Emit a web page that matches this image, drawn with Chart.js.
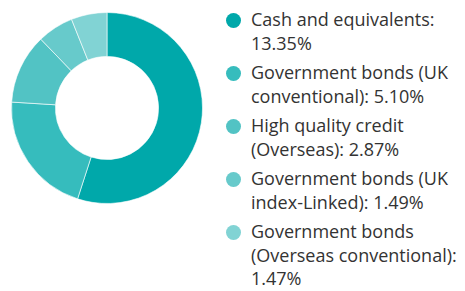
<!DOCTYPE html>
<html>
<head>
<meta charset="utf-8">
<script src="https://cdn.jsdelivr.net/npm/chart.js@4"></script>
<style>
  html, body { margin: 0; padding: 0; background: #fff; }
  #wrap { position: relative; width: 465px; height: 291px; overflow: hidden; }
  #pie { position: absolute; left: 0; top: 0; }
  #legend {
    position: absolute; left: 226px; top: 8px; width: 239px;
    margin: 0; padding: 0; list-style: none;
    font-family: "Open Sans", sans-serif; font-size: 18px; line-height: 23.5px; color: #333;
  }
  #legend li { position: relative; padding-left: 25px; margin-bottom: 6px; }
  #legend li span.dot {
    position: absolute; left: 0; top: 4.5px; width: 15px; height: 15px; border-radius: 50%;
  }
</style>
</head>
<body>
<div id="wrap">
  <canvas id="pie" width="214" height="216"></canvas>
  <ul id="legend"></ul>
</div>
<script>
const categories = [
  'Cash and equivalents',
  'Government bonds (UK conventional)',
  'High quality credit (Overseas)',
  'Government bonds (UK index-Linked)',
  'Government bonds (Overseas conventional)'
];
const weights = [13.35, 5.10, 2.87, 1.49, 1.47];
const colours = ['#00a8aa', '#36bcbd', '#52c3c4', '#67cacb', '#81d3d4'];

document.addEventListener('DOMContentLoaded', function () {
    const ctx = document.getElementById('pie').getContext('2d');
    const pie = new Chart(ctx, {
        type: 'doughnut',
        data: {
            labels: categories,
            datasets: [{
                data: weights,
                backgroundColor: colours,
                borderColor: 'rgba(255,255,255,0.6)',
                borderWidth: 1
            }]
        },
        options: {
            responsive: false,
            animation: false,
            cutout: '54%',
            layout: { padding: { left: 11, right: 11, top: 12, bottom: 12 } },
            plugins: {
                legend: { display: false },
                tooltip: { enabled: false }
            }
        }
    });

    // html legend, wraps like the original
    const ul = document.getElementById('legend');
    pie.data.labels.forEach(function (label, i) {
        const li = document.createElement('li');
        const dot = document.createElement('span');
        dot.className = 'dot';
        dot.style.background = colours[i];
        li.appendChild(dot);
        li.appendChild(document.createTextNode(label + ': ' + weights[i].toFixed(2) + '%'));
        ul.appendChild(li);
    });
});
</script>
</body>
</html>
